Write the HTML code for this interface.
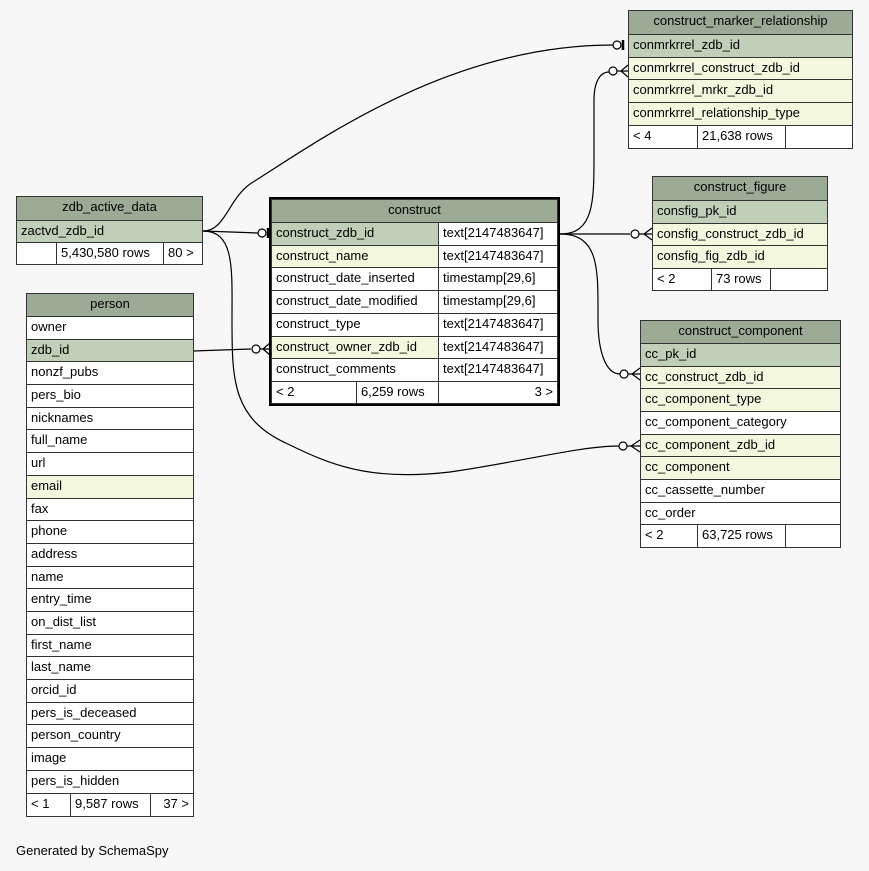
<!DOCTYPE html>
<html><head><meta charset="utf-8"><style>
body{margin:0;background:#f7f7f7;width:869px;height:871px;overflow:hidden;position:relative;font-family:"Liberation Sans",Arial,sans-serif;font-size:13px;color:#000}
.c{position:absolute;box-sizing:border-box;border:1px solid #333;white-space:nowrap;overflow:hidden;line-height:20px;padding-left:4px}
.h{background:#9cab95;text-align:center;padding-left:0}
.p{background:#bfcfb8}
.f{background:#f3f7de}
.w{background:#fff}
.r{text-align:right;padding-right:4px}
svg{position:absolute;left:0;top:0}
</style></head><body>
<svg width="869" height="871" viewBox="0 0 869 871" fill="none" stroke="#000" stroke-width="1.2">
<path d="M203,231 C225,231 228,200 250,184 C320,140 450,45 613,45"/>
<path d="M203,231 C235,231 232,270 232,320 C232,380 232,420 290,445 C340,470 380,480 450,472 C520,462 580,446 619,446"/>
<path d="M203,231 L258,233"/>
<path d="M193,351 L251,349"/>
<path d="M560,234 C595,234 594,200 594,150 L594,100 C594,82 600,72 609,72"/>
<path d="M560,234 L630,234"/>
<path d="M560,234 C600,234 598,270 598,320 C598,352 606,374 620,374"/>
<circle cx="617" cy="45" r="4" fill="#fff"/><path d="M623,40 L623,50" stroke-width="2.5"/>
<circle cx="613" cy="71" r="4" fill="#fff"/><path d="M617,71 L628,71 M621,71 L628,65 M621,71 L628,77"/>
<circle cx="635" cy="234" r="4" fill="#fff"/><path d="M639,234 L652,234 M644,234 L652,228 M644,234 L652,240"/>
<circle cx="624" cy="374" r="4" fill="#fff"/><path d="M628,374 L640,374 M632,374 L640,368 M632,374 L640,380"/>
<circle cx="623" cy="446" r="4" fill="#fff"/><path d="M627,446 L640,446 M631,446 L640,440 M631,446 L640,452"/>
<circle cx="262" cy="233" r="4" fill="#fff"/><path d="M268,228 L268,238" stroke-width="2.5"/>
<circle cx="256" cy="349" r="4" fill="#fff"/><path d="M260,349 L270,349 M263,349 L270,343 M263,349 L270,355"/>
</svg>

<!-- zdb_active_data -->
<div class="c h" style="left:16px;top:196px;width:187px;height:25px">zdb_active_data</div>
<div class="c p" style="left:16px;top:220px;width:187px;height:23px">zactvd_zdb_id</div>
<div class="c w" style="left:16px;top:242px;width:41px;height:23px"></div>
<div class="c w" style="left:56px;top:242px;width:108px;height:23px">5,430,580 rows</div>
<div class="c w" style="left:163px;top:242px;width:40px;height:23px">80 &gt;</div>

<!-- person -->
<div class="c h" style="left:26px;top:293px;width:168px;height:24px">person</div>
<div class="c w" style="left:26px;top:316px;width:168px;height:24px">owner</div>
<div class="c p" style="left:26px;top:339px;width:168px;height:23px">zdb_id</div>
<div class="c w" style="left:26px;top:361px;width:168px;height:24px">nonzf_pubs</div>
<div class="c w" style="left:26px;top:384px;width:168px;height:24px">pers_bio</div>
<div class="c w" style="left:26px;top:407px;width:168px;height:23px">nicknames</div>
<div class="c w" style="left:26px;top:429px;width:168px;height:24px">full_name</div>
<div class="c w" style="left:26px;top:452px;width:168px;height:24px">url</div>
<div class="c f" style="left:26px;top:475px;width:168px;height:24px">email</div>
<div class="c w" style="left:26px;top:498px;width:168px;height:23px">fax</div>
<div class="c w" style="left:26px;top:520px;width:168px;height:24px">phone</div>
<div class="c w" style="left:26px;top:543px;width:168px;height:24px">address</div>
<div class="c w" style="left:26px;top:566px;width:168px;height:23px">name</div>
<div class="c w" style="left:26px;top:588px;width:168px;height:24px">entry_time</div>
<div class="c w" style="left:26px;top:611px;width:168px;height:24px">on_dist_list</div>
<div class="c w" style="left:26px;top:634px;width:168px;height:23px">first_name</div>
<div class="c w" style="left:26px;top:656px;width:168px;height:24px">last_name</div>
<div class="c w" style="left:26px;top:679px;width:168px;height:24px">orcid_id</div>
<div class="c w" style="left:26px;top:702px;width:168px;height:23px">pers_is_deceased</div>
<div class="c w" style="left:26px;top:724px;width:168px;height:24px">person_country</div>
<div class="c w" style="left:26px;top:747px;width:168px;height:24px">image</div>
<div class="c w" style="left:26px;top:770px;width:168px;height:24px">pers_is_hidden</div>
<div class="c w" style="left:26px;top:793px;width:45px;height:24px">&lt; 1</div>
<div class="c w" style="left:70px;top:793px;width:81px;height:24px">9,587 rows</div>
<div class="c w r" style="left:150px;top:793px;width:44px;height:24px">37 &gt;</div>

<!-- construct -->
<div style="position:absolute;left:269px;top:197px;width:291px;height:209px;box-sizing:border-box;border:3px solid #000;background:#000"></div>
<div class="c h" style="left:271px;top:199px;width:287px;height:24px">construct</div>
<div class="c p" style="left:271px;top:222px;width:168px;height:24px">construct_zdb_id</div>
<div class="c w" style="left:438px;top:222px;width:120px;height:24px">text[2147483647]</div>
<div class="c f" style="left:271px;top:245px;width:168px;height:23px">construct_name</div>
<div class="c w" style="left:438px;top:245px;width:120px;height:23px">text[2147483647]</div>
<div class="c w" style="left:271px;top:267px;width:168px;height:24px">construct_date_inserted</div>
<div class="c w" style="left:438px;top:267px;width:120px;height:24px">timestamp[29,6]</div>
<div class="c w" style="left:271px;top:290px;width:168px;height:24px">construct_date_modified</div>
<div class="c w" style="left:438px;top:290px;width:120px;height:24px">timestamp[29,6]</div>
<div class="c w" style="left:271px;top:313px;width:168px;height:24px">construct_type</div>
<div class="c w" style="left:438px;top:313px;width:120px;height:24px">text[2147483647]</div>
<div class="c f" style="left:271px;top:336px;width:168px;height:23px">construct_owner_zdb_id</div>
<div class="c w" style="left:438px;top:336px;width:120px;height:23px">text[2147483647]</div>
<div class="c w" style="left:271px;top:358px;width:168px;height:24px">construct_comments</div>
<div class="c w" style="left:438px;top:358px;width:120px;height:24px">text[2147483647]</div>
<div class="c w" style="left:271px;top:381px;width:86px;height:23px">&lt; 2</div>
<div class="c w" style="left:356px;top:381px;width:83px;height:23px">6,259 rows</div>
<div class="c w r" style="left:438px;top:381px;width:120px;height:23px">3 &gt;</div>

<!-- construct_marker_relationship -->
<div class="c h" style="left:628px;top:10px;width:225px;height:25px">construct_marker_relationship</div>
<div class="c p" style="left:628px;top:34px;width:225px;height:24px">conmrkrrel_zdb_id</div>
<div class="c f" style="left:628px;top:57px;width:225px;height:23px">conmrkrrel_construct_zdb_id</div>
<div class="c f" style="left:628px;top:79px;width:225px;height:24px">conmrkrrel_mrkr_zdb_id</div>
<div class="c f" style="left:628px;top:102px;width:225px;height:24px">conmrkrrel_relationship_type</div>
<div class="c w" style="left:628px;top:125px;width:70px;height:24px">&lt; 4</div>
<div class="c w" style="left:697px;top:125px;width:89px;height:24px">21,638 rows</div>
<div class="c w" style="left:785px;top:125px;width:68px;height:24px"></div>

<!-- construct_figure -->
<div class="c h" style="left:652px;top:176px;width:176px;height:25px">construct_figure</div>
<div class="c p" style="left:652px;top:200px;width:176px;height:24px">consfig_pk_id</div>
<div class="c f" style="left:652px;top:223px;width:176px;height:23px">consfig_construct_zdb_id</div>
<div class="c f" style="left:652px;top:245px;width:176px;height:24px">consfig_fig_zdb_id</div>
<div class="c w" style="left:652px;top:268px;width:60px;height:23px">&lt; 2</div>
<div class="c w" style="left:711px;top:268px;width:60px;height:23px">73 rows</div>
<div class="c w" style="left:770px;top:268px;width:58px;height:23px"></div>

<!-- construct_component -->
<div class="c h" style="left:640px;top:320px;width:201px;height:24px">construct_component</div>
<div class="c p" style="left:640px;top:343px;width:201px;height:24px">cc_pk_id</div>
<div class="c f" style="left:640px;top:366px;width:201px;height:23px">cc_construct_zdb_id</div>
<div class="c f" style="left:640px;top:388px;width:201px;height:24px">cc_component_type</div>
<div class="c w" style="left:640px;top:411px;width:201px;height:24px">cc_component_category</div>
<div class="c f" style="left:640px;top:434px;width:201px;height:23px">cc_component_zdb_id</div>
<div class="c f" style="left:640px;top:456px;width:201px;height:24px">cc_component</div>
<div class="c w" style="left:640px;top:479px;width:201px;height:24px">cc_cassette_number</div>
<div class="c w" style="left:640px;top:502px;width:201px;height:23px">cc_order</div>
<div class="c w" style="left:640px;top:524px;width:58px;height:24px">&lt; 2</div>
<div class="c w" style="left:697px;top:524px;width:89px;height:24px">63,725 rows</div>
<div class="c w" style="left:785px;top:524px;width:56px;height:24px"></div>

<div style="position:absolute;left:16px;top:843px;font-size:13px">Generated by SchemaSpy</div>
</body></html>
